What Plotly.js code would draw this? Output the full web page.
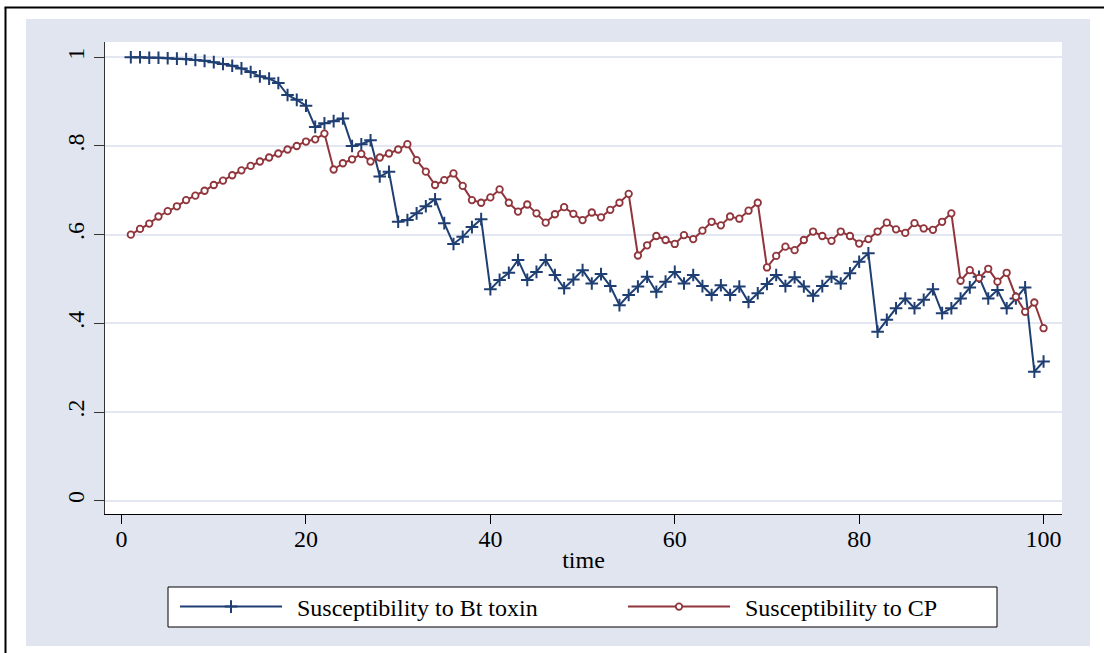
<!DOCTYPE html>
<html>
<head>
<meta charset="utf-8">
<script src="https://cdn.plot.ly/plotly-3.0.1.min.js"></script>
<style>
  html, body { margin: 0; padding: 0; background: #ffffff; }
  #chart { width: 1104px; height: 653px; }
</style>
</head>
<body>
<div id="chart"></div>
<script>
// ---------- data ----------
var time = [];
for (var i = 1; i <= 100; i++) time.push(i);

var btToxin = [
  1.000, 1.000, 0.999, 0.999, 0.998, 0.997, 0.996, 0.994, 0.992, 0.989,
  0.985, 0.981, 0.975, 0.967, 0.957, 0.952, 0.942, 0.915, 0.904, 0.891,
  0.843, 0.851, 0.856, 0.862, 0.800, 0.804, 0.813, 0.731, 0.742, 0.629,
  0.633, 0.648, 0.664, 0.680, 0.626, 0.579, 0.595, 0.617, 0.635, 0.477,
  0.498, 0.514, 0.543, 0.498, 0.516, 0.543, 0.509, 0.479, 0.499, 0.520,
  0.490, 0.511, 0.484, 0.441, 0.464, 0.483, 0.505, 0.471, 0.494, 0.516,
  0.490, 0.509, 0.484, 0.464, 0.486, 0.464, 0.483, 0.448, 0.468, 0.489,
  0.509, 0.484, 0.504, 0.483, 0.462, 0.484, 0.505, 0.490, 0.513, 0.539,
  0.558, 0.381, 0.408, 0.434, 0.456, 0.434, 0.453, 0.477, 0.423, 0.434,
  0.456, 0.481, 0.505, 0.456, 0.475, 0.434, 0.456, 0.481, 0.291, 0.314
];

var cpValues = [
  0.600, 0.613, 0.625, 0.641, 0.653, 0.664, 0.678, 0.688, 0.699, 0.712,
  0.722, 0.734, 0.745, 0.755, 0.765, 0.774, 0.783, 0.792, 0.800, 0.810,
  0.815, 0.828, 0.747, 0.761, 0.770, 0.782, 0.765, 0.774, 0.783, 0.792,
  0.804, 0.768, 0.742, 0.712, 0.723, 0.738, 0.710, 0.678, 0.672, 0.684,
  0.702, 0.672, 0.652, 0.668, 0.648, 0.627, 0.646, 0.662, 0.647, 0.633,
  0.650, 0.639, 0.656, 0.672, 0.692, 0.553, 0.576, 0.597, 0.588, 0.579,
  0.599, 0.590, 0.609, 0.629, 0.621, 0.641, 0.636, 0.654, 0.672, 0.526,
  0.552, 0.573, 0.565, 0.588, 0.607, 0.597, 0.586, 0.607, 0.597, 0.580,
  0.590, 0.607, 0.627, 0.612, 0.604, 0.626, 0.614, 0.611, 0.629, 0.648,
  0.496, 0.520, 0.502, 0.523, 0.494, 0.514, 0.460, 0.426, 0.447, 0.389
];

var seriesNames = ["Susceptibility to Bt toxin", "Susceptibility to CP"];
var xTickVals = [0, 20, 40, 60, 80, 100];
var yTickVals = [0, 0.2, 0.4, 0.6, 0.8, 1];
var yTickText = ["0", ".2", ".4", ".6", ".8", "1"];
var xTitle = "time";

// ---------- layout geometry ----------
var W = 1104, H = 653;
var M = { l: 105, r: 42, t: 42, b: 139 };
function px(x) { return (x - M.l) / (W - M.l - M.r); }
function py(y) { return (H - M.b - y) / (H - M.t - M.b); }

var NAVY = "#1f3f72";
var MAROON = "#90353b";
var BG = "#e0e5f0";
var FONT = "Liberation Serif, Times New Roman, serif";

var traces = [
  {
    x: time, y: btToxin, name: seriesNames[0], type: "scatter", mode: "lines+markers",
    line: { color: NAVY, width: 2 },
    marker: { symbol: "cross-thin", size: 9, line: { color: NAVY, width: 2 }, color: NAVY }
  },
  {
    x: time, y: cpValues, name: seriesNames[1], type: "scatter", mode: "lines+markers",
    line: { color: MAROON, width: 2 },
    marker: { symbol: "circle", size: 6.5, color: "#ffffff", line: { color: MAROON, width: 1.8 } }
  }
];

var shapes = [
  // white margins around the bluish graph region
  { type: "rect", xref: "paper", yref: "paper", x0: px(0), x1: px(W), y0: py(0), y1: py(19), fillcolor: "#ffffff", line: { width: 0 }, layer: "above" },
  { type: "rect", xref: "paper", yref: "paper", x0: px(0), x1: px(26), y0: py(0), y1: py(H), fillcolor: "#ffffff", line: { width: 0 }, layer: "above" },
  { type: "rect", xref: "paper", yref: "paper", x0: px(1090), x1: px(W), y0: py(0), y1: py(H), fillcolor: "#ffffff", line: { width: 0 }, layer: "above" },
  { type: "rect", xref: "paper", yref: "paper", x0: px(0), x1: px(W), y0: py(646), y1: py(H), fillcolor: "#ffffff", line: { width: 0 }, layer: "above" },
  // black frame lines (top and left)
  { type: "line", xref: "paper", yref: "paper", x0: px(4.5), x1: px(W), y0: py(7.5), y1: py(7.5), line: { color: "#000000", width: 2 }, layer: "above" },
  { type: "line", xref: "paper", yref: "paper", x0: px(5.5), x1: px(5.5), y0: py(7.5), y1: py(H), line: { color: "#000000", width: 2 }, layer: "above" },
  // legend box
  { type: "rect", xref: "paper", yref: "paper", x0: px(168), x1: px(997), y0: py(627), y1: py(587), fillcolor: "#ffffff", line: { color: "#000000", width: 1 }, layer: "above" }
];

var LINE_START = 12, LINE_LEN = 102;

var layout = {
  width: W, height: H, autosize: false,
  margin: { l: M.l, r: M.r, t: M.t, b: M.b, pad: 0, autoexpand: false },
  paper_bgcolor: BG,
  plot_bgcolor: "#ffffff",
  font: { family: FONT, size: 24, color: "#000000" },
  showlegend: true,
  legend: {
    orientation: "h",
    x: px(168), xanchor: "left",
    y: py(607), yanchor: "middle",
    bgcolor: "rgba(0,0,0,0)", borderwidth: 0,
    itemwidth: LINE_START + LINE_LEN + 15 - 10,
    entrywidth: 448 - (LINE_START + LINE_LEN + 15) - 5,
    entrywidthmode: "pixels",
    font: { family: FONT, size: 24, color: "#000000" },
    itemclick: false, itemdoubleclick: false
  },
  xaxis: {
    range: [-1.8, 102.0],
    tickmode: "array", tickvals: xTickVals,
    ticks: "outside", ticklen: 9, tickwidth: 1, tickcolor: "#000000",
    ticklabelstandoff: -6,
    showgrid: false, zeroline: false,
    showline: true, linecolor: "#000000", linewidth: 1,
    tickfont: { family: FONT, size: 24, color: "#000000" },
    title: { text: xTitle, font: { family: FONT, size: 24, color: "#000000" }, standoff: 0 },
    automargin: false, fixedrange: true
  },
  yaxis: {
    range: [-0.03, 1.0345],
    tickmode: "array", tickvals: yTickVals, ticktext: yTickText,
    tickangle: -90,
    ticks: "outside", ticklen: 10, tickwidth: 1, tickcolor: "#333333",
    showgrid: true, gridcolor: "#e2e7f1", gridwidth: 2,
    zeroline: false,
    showline: true, linecolor: "#333333", linewidth: 1,
    tickfont: { family: FONT, size: 24, color: "#000000" },
    automargin: false, fixedrange: true
  },
  shapes: shapes,
  hovermode: false
};

Plotly.newPlot("chart", traces, layout, { displayModeBar: false, staticPlot: true }).then(function (gd) {
  var items = gd.querySelectorAll(".legend .traces");
  items.forEach(function (it) {
    it.querySelectorAll(".legendlines path").forEach(function (p) {
      p.setAttribute("d", "M" + LINE_START + ",0h" + LINE_LEN);
    });
    it.querySelectorAll(".legendpoints path").forEach(function (p) {
      p.setAttribute("transform", "translate(" + (LINE_START + LINE_LEN / 2) + ",0)");
    });
  });
});
</script>
</body>
</html>
